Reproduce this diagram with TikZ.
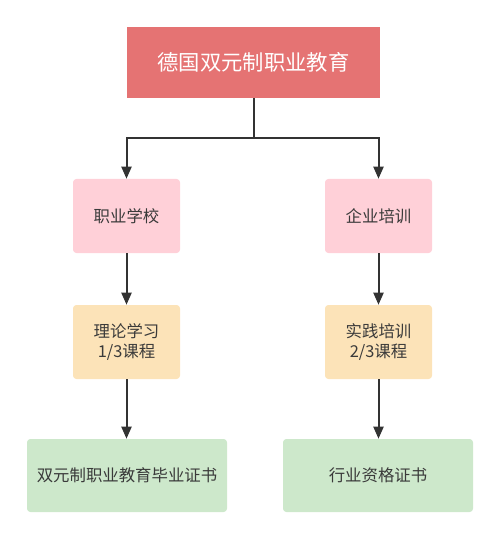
\documentclass[tikz,border=0pt]{standalone}
\usepackage{fontspec}
\setmainfont{Noto Sans CJK SC}
\usetikzlibrary{arrows.meta}
\definecolor{topc}{HTML}{E57373}
\definecolor{pinkc}{HTML}{FFD0D8}
\definecolor{orangec}{HTML}{FCE3B8}
\definecolor{greenc}{HTML}{CDE8CB}
\definecolor{linec}{HTML}{333333}
\definecolor{textc}{HTML}{3A3A3A}
\begin{document}
\begin{tikzpicture}[x=0.75pt,y=-0.75pt,
  box/.style={rounded corners=2.5pt,draw=none,align=center,text=textc,font=\fontsize{12.3}{15}\selectfont,inner sep=0pt},
  arr/.style={draw=linec,line width=1.5pt,-{Triangle[length=9pt,width=7.5pt]}},
  ln/.style={draw=linec,line width=1.5pt}]
\useasboundingbox (0,0) rectangle (500,538);
\node[box,fill=topc,text=white,rounded corners=0pt,minimum width=253*0.75pt,minimum height=71*0.75pt,font=\fontsize{16}{18}\selectfont] (top) at (253.5,62.5) {德国双元制职业教育};
\node[box,fill=pinkc,minimum width=107*0.75pt,minimum height=74*0.75pt] (p1) at (126.5,216) {职业学校};
\node[box,fill=pinkc,minimum width=107*0.75pt,minimum height=74*0.75pt] (p2) at (378.5,216) {企业培训};
\node[box,fill=orangec,minimum width=107*0.75pt,minimum height=74*0.75pt] (o1) at (126.5,342) {理论学习\\1/3课程};
\node[box,fill=orangec,minimum width=107*0.75pt,minimum height=74*0.75pt] (o2) at (378.5,342) {实践培训\\2/3课程};
\node[box,fill=greenc,minimum width=200*0.75pt,minimum height=73*0.75pt] (g1) at (127,475.5) {双元制职业教育毕业证书};
\node[box,fill=greenc,minimum width=190*0.75pt,minimum height=73*0.75pt] (g2) at (378,475.5) {行业资格证书};
\coordinate (j) at (253.5,138);
\draw[ln] (top.south) -- (j);
\draw[arr] (j) -| (p1.north);
\draw[arr] (j) -| (p2.north);
\draw[arr] (p1.south) -- (o1.north);
\draw[arr] (p2.south) -- (o2.north);
\draw[arr] (o1.south) -- (g1.north -| o1.south);
\draw[arr] (o2.south) -- (g2.north -| o2.south);
\end{tikzpicture}
\end{document}
